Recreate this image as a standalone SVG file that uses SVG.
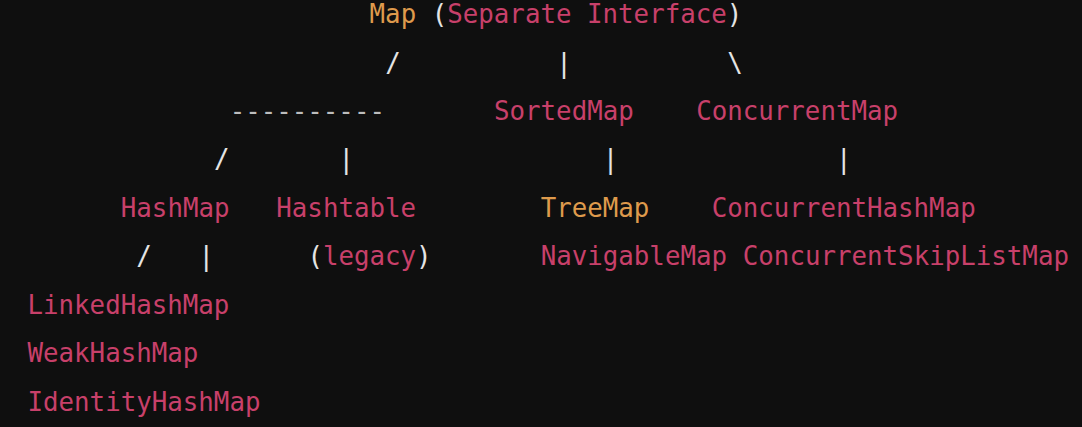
<svg xmlns="http://www.w3.org/2000/svg" width="1082" height="427" viewBox="0 0 1082 427">
<style>
text{font-family:"DejaVu Sans Mono","Liberation Mono",monospace;font-size:25.8px;white-space:pre}
.p{fill:#C8406A}
.o{fill:#DE9A4C}
.w{fill:#E4E4E4}
.d{fill:#BDBDBD}
</style>
<rect width="1082" height="427" fill="#0F0F0F"/>
<g id="connectors">
<text class="w" x="385.15" y="71.5">/</text>
<text class="w" x="556.2" y="71.5">|</text>
<text class="w" x="727.25" y="71.5">\</text>
<text class="d" x="229.65" y="119.5">----------</text>
<text class="w" x="214.1" y="168">/</text>
<text class="w" x="338.5" y="168">|</text>
<text class="w" x="602.85" y="168">|</text>
<text class="w" x="836.1" y="168">|</text>
<text class="w" x="136.35" y="265">/</text>
<text class="w" x="198.55" y="265">|</text>
</g>
<g id="map"><text x="369.6" y="23"><tspan class="o">Map</tspan><tspan class="w"> (</tspan><tspan class="p">Separate Interface</tspan><tspan class="w">)</tspan></text></g>
<g id="sortedmap"><text class="p" x="494" y="119.5">SortedMap</text></g>
<g id="concurrentmap"><text class="p" x="696.15" y="119.5">ConcurrentMap</text></g>
<g id="hashmap"><text class="p" x="120.8" y="216.5">HashMap</text></g>
<g id="hashtable"><text class="p" x="276.3" y="216.5">Hashtable</text><text x="307.4" y="265"><tspan class="w">(</tspan><tspan class="p">legacy</tspan><tspan class="w">)</tspan></text></g>
<g id="treemap"><text class="o" x="540.65" y="216.5">TreeMap</text></g>
<g id="navigablemap"><text class="p" x="540.65" y="265">NavigableMap</text></g>
<g id="concurrenthashmap"><text class="p" x="711.7" y="216.5">ConcurrentHashMap</text></g>
<g id="concurrentskiplistmap"><text class="p" x="742.8" y="265">ConcurrentSkipListMap</text></g>
<g id="linkedhashmap"><text class="p" x="27.5" y="313.5">LinkedHashMap</text></g>
<g id="weakhashmap"><text class="p" x="27.5" y="362">WeakHashMap</text></g>
<g id="identityhashmap"><text class="p" x="27.5" y="410.5">IdentityHashMap</text></g>
</svg>
